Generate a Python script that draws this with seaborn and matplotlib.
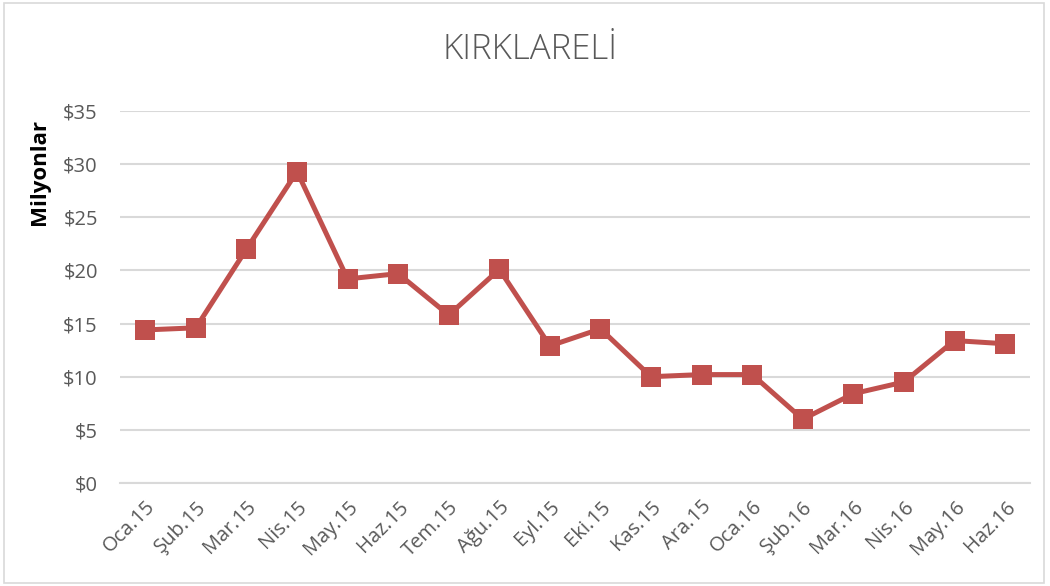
import matplotlib
matplotlib.use("Agg")
import matplotlib.pyplot as plt
import matplotlib.patches as mpatches
import seaborn as sb
import pandas as pd

aylar = ["Oca.15", "Şub.15", "Mar.15", "Nis.15", "May.15", "Haz.15", "Tem.15", "Ağu.15",
         "Eyl.15", "Eki.15", "Kas.15", "Ara.15", "Oca.16", "Şub.16", "Mar.16", "Nis.16",
         "May.16", "Haz.16"]
degerler = [14.4, 14.6, 22.0, 29.3, 19.2, 19.7, 15.8, 20.1, 12.9, 14.5, 10.0, 10.2,
            10.2, 6.0, 8.4, 9.5, 13.4, 13.1]
y_ticks = [0, 5, 10, 15, 20, 25, 30, 35]

sb.set_style("white")
plt.rcParams["font.family"] = ["Open Sans", "DejaVu Sans"]

gri = "#595959"
kirmizi = "#C0504D"

df = pd.DataFrame({"ay": aylar, "deger": degerler, "x": range(len(aylar))})

fig = plt.figure(figsize=(10.5, 5.86), dpi=100)
ax = fig.add_axes([0.1143, 0.1758, 0.867, 0.6348])

sb.lineplot(data=df, x="x", y="deger", ax=ax, color=kirmizi, linewidth=3.6,
            marker="s", markersize=14, markeredgecolor=kirmizi, markeredgewidth=0,
            zorder=3)

ax.set_xlim(-0.5, len(aylar) - 0.5)
ax.set_ylim(0, 35)
ax.set_yticks(y_ticks)
ax.set_yticklabels(["$" + str(v) for v in y_ticks], color=gri, fontsize=14.5)
ax.set_xticks(range(len(aylar)))
ax.set_xticklabels(aylar, rotation=45, ha="right", rotation_mode="anchor",
                   color=gri, fontsize=14.5)
ax.set_xticks([i - 0.5 for i in range(len(aylar) + 1)], minor=True)
ax.tick_params(axis="x", which="major", length=0, pad=10)
ax.tick_params(axis="x", which="minor", length=6, color="#D9D9D9", width=1.5)
ax.tick_params(axis="y", length=0, pad=16)

ax.grid(axis="y", color="#D9D9D9", linewidth=1.5)
for s in ["top", "right", "left"]:
    ax.spines[s].set_visible(False)
ax.spines["bottom"].set_color("#D9D9D9")
ax.spines["bottom"].set_linewidth(1.5)

ax.set_xlabel("")
ax.set_ylabel("")
fig.text(0.038, 0.707, "Milyonlar", rotation=90, ha="center", va="center",
         fontsize=16, fontweight="bold", color="black")
fig.text(0.505, 0.915, "KIRKLARELİ", ha="center", va="center", fontsize=25,
         color=gri, fontweight="light")

fig.patches.append(mpatches.Rectangle((0.004, 0.005), 0.99, 0.99, transform=fig.transFigure,
                                      fill=False, edgecolor="#D9D9D9", linewidth=1.2))

fig.savefig("out.png", dpi=100)
